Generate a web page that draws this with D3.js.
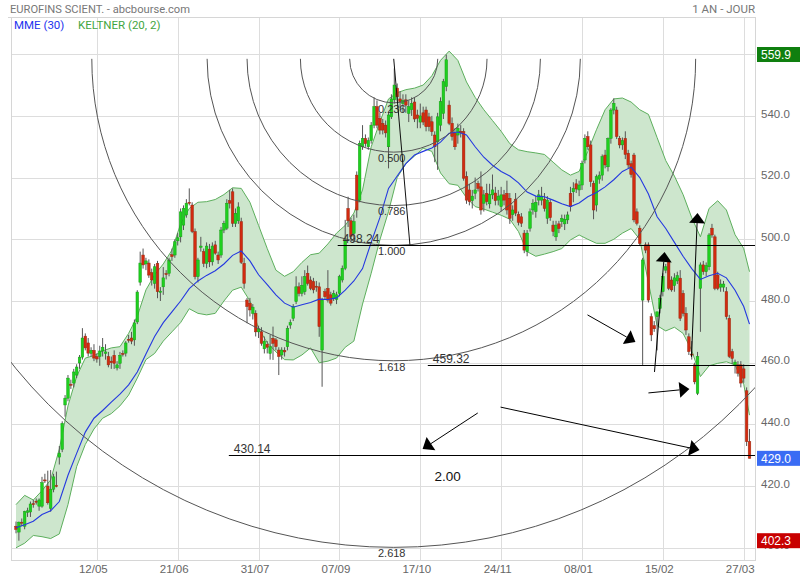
<!DOCTYPE html>
<html><head><meta charset="utf-8">
<script src="https://cdn.jsdelivr.net/npm/d3@7"></script>
<style>body{margin:0;background:#fff;}svg{display:block;font-family:'Liberation Sans',Arial,sans-serif;}</style>
</head><body><svg id="c" width="800" height="580"></svg>
<script>
// ---------- DATA ----------
const opens=[407,405.1,408.3,407,411.5,411.6,414.3,415.1,413.5,413.5,422,420,412.8,419,420.2,429.4,431.9,446.3,448.5,453,453.4,456,459.9,461.8,468.6,466.4,463,464,462,462,463.8,463,462,460.5,462.4,458.3,459.8,463,463.1,467.6,468,467.4,473.2,486.1,494.9,492,492.3,489.2,485.7,492.2,482.8,484.6,488.9,489,495,494.9,499.5,500.8,504.6,507.9,512,511.1,502.5,487.9,497.4,496,492.2,496.8,492.7,498.2,494.9,494.9,503,503.6,512.5,515.4,505.2,506,505.7,492.2,480.3,479.3,476,476,470,470,464.5,466,463,467.9,467.4,464.1,462.5,464,465.2,472.2,474.4,479.8,484.6,482.5,483,489,486.8,486.3,484.8,484.6,464.1,483,484.1,482,480.9,480.5,482.5,486.8,490.6,510,506,501.9,520.8,512.7,530,532.7,530,532,537,543,539.2,537.6,537,530,539.7,545.2,549,545.5,544,545.2,540.8,542,544.5,540.3,538,541,541.9,539.7,538.1,533.8,531.6,537,540.8,549.5,543.5,537.6,534.4,533.8,535,534.9,520.3,516,512.5,514.9,518.1,517,511.7,514.9,511.5,514.4,515,512.7,510.6,514.4,514.9,513.3,508,513,508,507.3,502,496,503.6,509.5,509,512.7,512.7,513,506.8,512,504.6,500.8,505,505.7,505,506.3,514.9,515.4,518,516,517.6,525.7,533.3,530.6,518.1,511.1,519.5,520.8,527.3,523.5,532.7,541.9,541.9,532.7,530.6,532.7,527.9,524.5,527.3,508.9,503.6,480.3,498.2,498.2,474.9,472,474.9,477.6,483,490,492.7,486.8,485,486.5,487.4,482.5,476,468.4,462.8,459.3,450.1,484.1,491.7,489.5,491.1,503.6,500.8,488.4,484.5,484.5,483,474.4,463.6,459.3,459.3,459.3,458,450.9,434.4];
const highs=[408.5,408.5,409.5,412,413,415,415.5,416,416,423,424,425,425.2,424,424.7,433,441,449.5,456,454.5,458,459.5,462.5,471.2,469.5,468,465,466,463,465.5,468,466,463.5,462,464,460.5,463.5,464,467,469,470,474,483.5,496,497,494,493.5,490.5,492,493,484.5,491,490,494,497,500,502,510,511,513,516.5,512,503.5,494,500.8,497,499,498.5,499,499.5,496,504,506,513,516,516.5,510,512,507,494,481,481,479,477,472,471.5,468.5,467,469,471.7,468,465,465,465,472,474,479,488,486,488,490,491.5,488,487.5,486.5,486,481,484,490,483,483.5,483,488.5,491.5,506.3,513.8,507,508,522,532,537,534,533,538,546,545,541,539,538.5,541,547,555.4,550.5,548,547,547,545,546,546,542,544,543,543,541,540,535,541,546,552,559.9,545,539.5,536,537.5,537,536,522,518,516,520,519,522,516,518,518,521,517,516,517,516,519,515,511,515,509,508.5,503,503,510,513,514,516,517,515,514,513,506,506,506,508,508,509,517,518.5,519.5,519,525.5,534,535,532,519,521,522,527.5,529,533,542.5,545.7,543,533.5,533,535,529,525.5,528,510,504.5,494,499,499,476,473.5,476,482,489,492,493.5,488,489,489.5,490,483.5,478,469.5,467,460,463.5,492.5,493,492.5,502,505,501.5,489.5,487,486.5,484.5,475.5,464.5,461,460.5,460.5,459.5,452,438.5];
const lows=[404.7,402.3,407,406,410,410,413,414,412,413,421,414,411.7,418,419.6,427,431,442.5,447.5,451.5,452,455,458,461,464,462,462,460.5,460,459,462,461,458.5,458,458,457.5,458,462,462,466.5,466,465.5,472.5,485,490.5,490,487.5,485,484,480.9,480,482,487,488,493,494,498,499,503,507,511,502,487,486,496,491,490.6,491,491.5,495,492,494,502,503,510,504,504,505,492,484,472.8,475,474,468.5,468,465.5,463,463,461,460.9,464,456,461,462,464,471,473.5,479,481.5,481.5,482,485,483.5,482.5,483,468.4,452.2,480.5,479.5,478.5,480,479,481.5,486,490,504,500,499,507,512,529,530,529,531,536,536,534,534,533,523,539,544,545,542.5,541,541,538,540,538,536,536,537,535,535,533.5,525,522.5,535,539,548,537,532,529,531,533,519,511.5,511,510,513,515.5,508,509,511,510,513,511,511,509,511,508,505,506,507.5,504.5,504,495.5,494.5,502.5,508,507,511,511,509,505,506,501,499.5,502,504,503,505,509,512,515,514,516,524.6,529,517,506.5,509,518,519,523,522,531,540.5,532.5,529.5,529,526,523,520,505.5,504.5,498,459.3,495.5,479.5,467,470,464,476,481.5,489,483.5,483,483,485.5,473.5,475,469,462.5,461,453,449.5,470,488.5,488,490,500.5,483.5,483.5,483,483,474,461.5,459.5,456.5,455.5,452,453.5,433,429];
const closes=[406,408.3,408,411.7,412,414.2,414,414.9,415.5,421.1,421.8,414.6,419,423,420,430.7,440.3,448.5,455,452.8,457,458.6,461.8,468,464.8,463.1,464,461.5,461.2,463.8,465,463.5,459.3,460,459.8,459.3,462.4,462.7,466.4,467.4,467,472.9,482.9,492.3,491.7,493,488.4,486.8,491.1,483,483.2,487.5,488.6,493.3,494.4,499.2,500.5,508.9,510,511.7,511.7,502.5,487.9,493.3,497.8,492.2,497.8,492.7,497.8,495.5,493.3,503,505.2,511.7,511.7,505.2,508.4,510.5,492.5,485.7,478.2,477.1,478,470,471,466.3,467,465,465.2,466.3,465.2,462,464.1,463.5,471.1,473,478.2,484.6,482.5,485.1,487.9,485.7,484.1,483.6,484.6,471.7,480.3,481.4,480.3,479.3,482.5,482,487.9,490.6,499.8,506,501,505.7,509.5,531.1,532.7,531,532,537,543,537,535.4,535.4,534.5,540.3,545.5,550,546.2,544.6,545,543.5,543,544,539,539.2,540,538,536.5,536.5,534.9,530,539.7,544.6,551.1,558.2,537.6,533.3,530,536,534.5,519.8,512.7,512.2,514,516,516.5,509.5,514.4,512.2,514.5,516,512.5,514,514.4,512.7,509.5,506.8,509.5,508.5,505.5,505.2,496.5,502,508.9,511.7,512,514.4,514,510,512.7,507,502.5,504.6,503.5,506.8,506.5,507.9,510.6,516.5,516.3,517.6,524.6,532.7,530,518.7,509.5,520.3,520.8,526.8,524.1,532.7,541.9,544.1,533.3,530.6,532,527.5,524.1,521,506.3,505.2,498.7,493.3,496.5,480.3,469,471,476.5,480.9,487.9,491.1,484.1,483.6,487.5,488.2,474.4,476,470.6,463.6,462.5,453.8,462,491.7,489.5,491.5,501.4,501.4,484.1,484.1,485.5,485.5,474.9,462,461.4,460.2,456.6,453.4,455,434.4,429];
// Keltner (20,2) and MME (30) read at every third session
const bandIdx=[0,3,6,9,12,15,18,21,24,27,30,33,36,39,42,45,48,51,54,57,60,63,66,69,72,75,78,81,84,87,90,93,96,99,102,105,108,111,114,117,120,123,126,129,132,135,138,141,144,147,150,153,156,159,162,165,168,171,174,177,180,183,186,189,192,195,198,201,204,207,210,213,216,219,222,225,228,231,234,237,240,243,246,249,252,254];
const keltnerUpper=[414,417,415.5,418.5,422,432,446,455.5,461.5,462.3,463.8,464.8,465.2,469.5,475,483.6,488.5,492,496.5,505,510,512,512.2,512.9,514.5,516.7,516.5,512,504.5,497,490,488,489.5,492.5,495,495.5,498.5,502,504.5,508.5,516,530,538,545.5,547.5,548.5,549,550,553,558,561,558,551,546,542,538.5,535,531,529,528.4,528,527.5,525,522.5,520.8,522,528.5,535.5,542,545.5,545.8,544.5,542,540.5,533,525.5,520.5,514.5,507,500.8,510,512.5,509.5,501.5,497,489.5];
const keltnerLower=[400,401.5,404,403.6,403,404.5,414,426.3,433.5,438.5,442,443.5,446,449.5,455,461,463,467,470,473,477.5,476,475.5,476,480,483.5,484.5,480,471,466.5,463.5,461,460.9,462.5,464.8,460,460.5,461.5,465,467,479,489,499.8,509,520,524.5,527,529.5,528.5,521.5,518,517.5,513.5,510.6,509.8,508.8,507.8,506.5,502.5,496,494.5,495.2,496,497,499.8,501.4,500,498.7,498.7,500,502,503.5,500,486,472,470.3,471.5,469.5,464,455.5,459,459.8,460.3,459.3,453,443];
const mme30=[406.5,407.5,408.6,410.8,412,415,423.5,430.6,437.5,442,444.5,447.2,449.8,452.8,457,462.8,468.5,473,476.5,480,484,486.5,488.3,489.8,492,494.8,496.2,493,488.5,485.3,482,479.3,478,478.8,479.5,480.6,480.5,481,483.5,486.5,490.5,499,507,516.5,520.5,524.5,527.3,528.5,529.6,531.5,534.4,534.8,533.8,530,526.6,524,522,520.5,518.3,515.3,514,513.8,512.7,511.5,510.6,511.8,513.8,515.2,517,519.3,522,523.4,520,514.7,507.3,503.5,499,494.5,490.5,487,488.2,489,487.5,483.5,478.2,472.5];
// axes
const xTickIdx=[28,56,84,112,140,168,196,224,252];
const xTickLabels=["12/05","21/06","31/07","07/09","17/10","24/11","08/01","15/02","27/03"];
const yGrid=[400,420,440,460,480,500,520,540,560];
const yTickLabels=[400,420,440,460,480,500,520,540];
// price tags
const tagValues=[559.9,429.0,402.3];
const tagColors=["#0f7f0f","#3a6cf4","#c80000"];
// drawn objects
const levelValues=[498.24,459.32,430.14];
const levelStartIdx=[111.4,142.6,73.7];
const fibRatios=[0.236,0.5,0.786,1.0,1.618,2.618];
const fibLabels=["0.236","0.500","0.786","1.000","1.618","2.618"];
const fibCenter=[130.8,558.5];
const fibBase=[136.4,498.24];
const arrowFrom=[[159.9,443.7],[167.8,445.6],[197.9,475.5],[219.0,450.2],[221.1,457.0],[233.9,461.9]];
const arrowTo=[[140.8,432.0],[236.7,431.7],[214.5,466.7],[233.2,451.5],[224.6,495.9],[236.0,508.5]];
const noteText=["2.00"];
const notePos=[[149.5,423.3]];

// ---------- CHART ----------
const svg=d3.select('#c');
const P={l:11,r:755,t:17,b:560};
const x=d3.scaleLinear().domain([0,254]).range([16,749.5]);
const y=d3.scaleLinear().domain([400,560]).range([547.8,54.2]);
const condensed="Roboto,'Liberation Sans',sans-serif";

svg.append('defs').append('clipPath').attr('id','pc').append('rect')
  .attr('x',P.l).attr('y',P.t).attr('width',P.r-P.l).attr('height',P.b-P.t);

// header
svg.append('text').attr('x',10).attr('y',13).attr('font-family',condensed).attr('font-size',11.5).attr('fill','#777')
  .attr('textLength',180).attr('lengthAdjust','spacingAndGlyphs').text('EUROFINS SCIENT. - abcbourse.com');
svg.append('text').attr('x',755).attr('y',13).attr('text-anchor','end').attr('font-family',condensed).attr('font-size',11.5).attr('fill','#777').text('1 AN - JOUR');

// vertical gridlines + x labels via axis
const gx=svg.append('g').attr('transform',`translate(0,${P.b})`)
  .call(d3.axisBottom(x).tickValues(xTickIdx).tickFormat((d,i)=>xTickLabels[i]).tickSize(-(P.b-P.t)).tickSizeOuter(0));
gx.select('.domain').remove();
gx.selectAll('line').attr('stroke','#ddd').attr('shape-rendering','crispEdges');
gx.selectAll('text').attr('fill','#666').attr('font-size',11.5).attr('dy','0.9em').attr('dx',-4);

// horizontal gridlines
svg.append('g').selectAll('line').data(yGrid).join('line')
  .attr('x1',P.l).attr('x2',P.r).attr('y1',d=>Math.round(y(d))+0.5).attr('y2',d=>Math.round(y(d))+0.5)
  .attr('stroke','#ddd');
const gy=svg.append('g').attr('transform',`translate(${P.r},0)`)
  .call(d3.axisRight(y).tickValues(yTickLabels).tickFormat(d3.format('.1f')).tickSize(0).tickPadding(6));
gy.select('.domain').remove();
gy.selectAll('text').attr('fill','#666').attr('font-size',11.5).attr('dy','0.1em');

// frame
svg.append('rect').attr('x',P.l+0.5).attr('y',P.t+0.5).attr('width',P.r-P.l).attr('height',P.b-P.t)
  .attr('fill','none').attr('stroke','#d6d6d6');
svg.append('line').attr('x1',8).attr('x2',P.r).attr('y1',P.t+0.5).attr('y2',P.t+0.5).attr('stroke','#d6d6d6');

// legend
svg.append('text').attr('x',14).attr('y',29).attr('font-family',condensed).attr('font-size',11.5).attr('fill','#2233ee').text('MME (30)');
svg.append('text').attr('x',78).attr('y',29).attr('font-family',condensed).attr('font-size',11.5).attr('fill','#3fa63f').text('KELTNER (20, 2)');

const plot=svg.append('g').attr('clip-path','url(#pc)');

// Keltner band
const band=bandIdx.map((d,i)=>({i:d,u:keltnerUpper[i],l:keltnerLower[i],m:mme30[i]}));
plot.append('path').datum(band).attr('fill','#cde6cd')
  .attr('d',d3.area().x(d=>x(d.i)).y0(d=>y(d.l)).y1(d=>y(d.u)));
plot.append('path').datum(band).attr('fill','none').attr('stroke','#5daf5d').attr('stroke-width',1)
  .attr('d',d3.line().x(d=>x(d.i)).y(d=>y(d.u)));
plot.append('path').datum(band).attr('fill','none').attr('stroke','#5daf5d').attr('stroke-width',1)
  .attr('d',d3.line().x(d=>x(d.i)).y(d=>y(d.l)));

// candles
const candles=closes.map((c,i)=>({i,o:opens[i],h:highs[i],l:lows[i],c}));
const cg=plot.append('g');
cg.selectAll('line').data(candles).join('line')
  .attr('x1',d=>x(d.i)).attr('x2',d=>x(d.i)).attr('y1',d=>y(d.h)).attr('y2',d=>y(d.l))
  .attr('stroke','#555').attr('stroke-width',1);
cg.selectAll('rect').data(candles).join('rect')
  .attr('x',d=>x(d.i)-1.3).attr('width',2.6)
  .attr('y',d=>y(Math.max(d.o,d.c))).attr('height',d=>Math.max(1,Math.abs(y(d.o)-y(d.c))))
  .attr('fill',d=>d.c>=d.o?'#1fd01f':'#d32a10')
  .attr('stroke',d=>d.c>=d.o?'#14a014':'#9a2a10').attr('stroke-width',0.5);

// MME line
plot.append('path').datum(band).attr('fill','none').attr('stroke','#2438e0').attr('stroke-width',1.1)
  .attr('d',d3.line().x(d=>x(d.i)).y(d=>y(d.m)));

// fib arcs
const cx=x(fibCenter[0]), cy=y(fibCenter[1]);
const bx=x(fibBase[0]), by=y(fibBase[1]);
const R=Math.hypot(bx-cx,by-cy);
fibRatios.forEach((r,k)=>{
  const p=d3.path(); p.arc(cx,cy,R*r,Math.PI,0,true);
  plot.append('path').attr('d',p.toString()).attr('fill','none').attr('stroke','#555').attr('stroke-width',1);
  plot.append('text').attr('x',cx-2).attr('y',cy+R*r+10).attr('text-anchor','middle')
    .attr('font-size',11).attr('fill','#333').text(fibLabels[k]);
});
plot.append('line').attr('x1',cx).attr('y1',cy).attr('x2',bx).attr('y2',by).attr('stroke','#111').attr('stroke-width',1);

// horizontal levels
levelValues.forEach((v,k)=>{
  const yy=Math.round(y(v))+0.5;
  plot.append('line').attr('x1',x(levelStartIdx[k])).attr('x2',P.r).attr('y1',yy).attr('y2',yy).attr('stroke','#000');
  plot.append('text').attr('x',x(levelStartIdx[k])+5).attr('y',yy-3).attr('font-size',12).attr('fill','#333')
    .text(d3.format('.2f')(v));
});

// arrows
arrowFrom.forEach((f,k)=>{
  const x0=x(f[0]),y0=y(f[1]),x1=x(arrowTo[k][0]),y1=y(arrowTo[k][1]);
  const L=Math.hypot(x1-x0,y1-y0),ux=(x1-x0)/L,uy=(y1-y0)/L;
  const hl=10,hw=8;
  const bxp=x1-ux*hl,byp=y1-uy*hl;
  plot.append('line').attr('x1',x0).attr('y1',y0).attr('x2',bxp).attr('y2',byp).attr('stroke','#000').attr('stroke-width',1);
  plot.append('path').attr('fill','#000')
    .attr('d',`M${x1},${y1}L${bxp-uy*hw},${byp+ux*hw}L${bxp+uy*hw},${byp-ux*hw}Z`);
});
noteText.forEach((t,k)=>{
  plot.append('text').attr('x',x(notePos[k][0])).attr('y',y(notePos[k][1])+5).attr('text-anchor','middle')
    .attr('font-size',13.5).attr('fill','#111').text(t);
});

// price tags
tagValues.forEach((v,k)=>{
  const yy=y(v);
  svg.append('rect').attr('x',757).attr('y',yy-7.5).attr('width',43).attr('height',15).attr('fill',tagColors[k]);
  svg.append('text').attr('x',761).attr('y',yy+4.5).attr('font-size',12).attr('fill','#fff').text(d3.format('.1f')(v));
});
</script></body></html>
